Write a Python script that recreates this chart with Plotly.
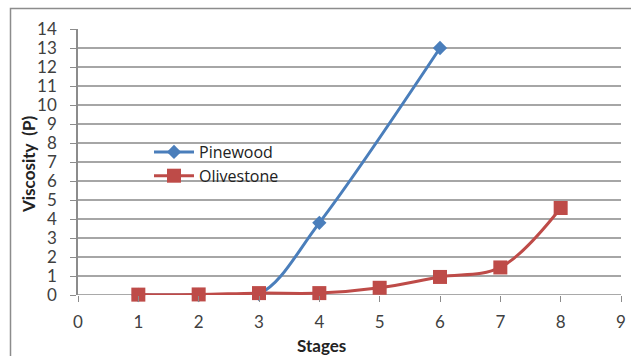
import plotly.graph_objects as go

stages = [1, 2, 3, 4, 5, 6, 7, 8]
pinewood = [0, 0, 0.05, 3.8, None, 13, None, None]
olivestone = [0.02, 0.03, 0.1, 0.1, 0.38, 0.95, 1.45, 4.58]
x_ticks = list(range(0, 10))
y_ticks = list(range(0, 15))

BLUE = "#4A7EBB"
RED = "#BE4B48"
FONT = "Lato"

fig = go.Figure()
fig.add_trace(go.Scatter(
    x=stages, y=pinewood, name="Pinewood", mode="lines+markers",
    connectgaps=True, cliponaxis=False,
    line=dict(color=BLUE, width=3, shape="spline"),
    marker=dict(symbol="diamond", size=11, color=BLUE),
))
fig.add_trace(go.Scatter(
    x=stages, y=olivestone, name="Olivestone", mode="lines+markers",
    cliponaxis=False,
    line=dict(color=RED, width=3, shape="spline"),
    marker=dict(symbol="square", size=14, color=RED),
))

W, H = 631, 356
L, T, R, B = 78, 29, 10, 61
pw, ph = W - L - R, H - T - B
plot_bottom = T + ph


def px_x(sx):
    return (sx - L) / pw


def px_y(sy):
    return (plot_bottom - sy) / ph


fig.update_layout(
    width=W, height=H,
    margin=dict(l=L, r=R, t=T, b=B, autoexpand=False),
    paper_bgcolor="white", plot_bgcolor="white",
    font=dict(family=FONT, size=17, color="#404040"),
    showlegend=True,
    legend=dict(
        x=px_x(149), y=px_y(135), xanchor="left", yanchor="top",
        bgcolor="rgba(0,0,0,0)",
        font=dict(family="Open Sans", size=16, color="#222222"),
        tracegroupgap=0, itemwidth=40,
    ),
    xaxis=dict(
        range=[0, 9], tickmode="array", tickvals=x_ticks,
        showgrid=False, zeroline=False, automargin=False,
        showline=False,
        ticks="outside", ticklen=6, tickcolor="#8c8c8c",
        ticklabelstandoff=6,
    ),
    yaxis=dict(
        range=[0, 14], tickmode="array", tickvals=y_ticks,
        showgrid=True, gridcolor="#a6a6a6", gridwidth=1.5,
        zeroline=False, automargin=False,
        showline=True, linecolor="#8c8c8c", linewidth=1.5,
        ticks="outside", ticklen=6, tickcolor="#8c8c8c",
        ticklabelstandoff=10,
    ),
    annotations=[
        dict(text="<b>Stages</b>", xref="paper", yref="paper",
             x=px_x(321), y=px_y(345), showarrow=False,
             font=dict(size=17, color="#222222"), xanchor="center", yanchor="middle"),
        dict(text="<b>Viscosity  (P)</b>", xref="paper", yref="paper",
             x=px_x(28), y=px_y(164), showarrow=False, textangle=-90,
             font=dict(size=17, color="#222222"), xanchor="center", yanchor="middle"),
    ],
)
# x-axis baseline (gridline at 0 with ticks)
fig.add_shape(type="line", xref="paper", yref="y", x0=0, x1=1, y0=0, y1=0,
              line=dict(color="#8c8c8c", width=1.5), layer="below")
# chart outer border
fig.add_shape(type="rect", xref="paper", yref="paper",
              x0=px_x(10.5), x1=px_x(650),
              y0=px_y(370), y1=px_y(8.5),
              line=dict(color="#8c8c8c", width=1.5))

fig.write_html(
    "out.html",
    config={"displayModeBar": False},
    post_script="document.body.style.margin='0';document.body.style.overflow='hidden';",
)
